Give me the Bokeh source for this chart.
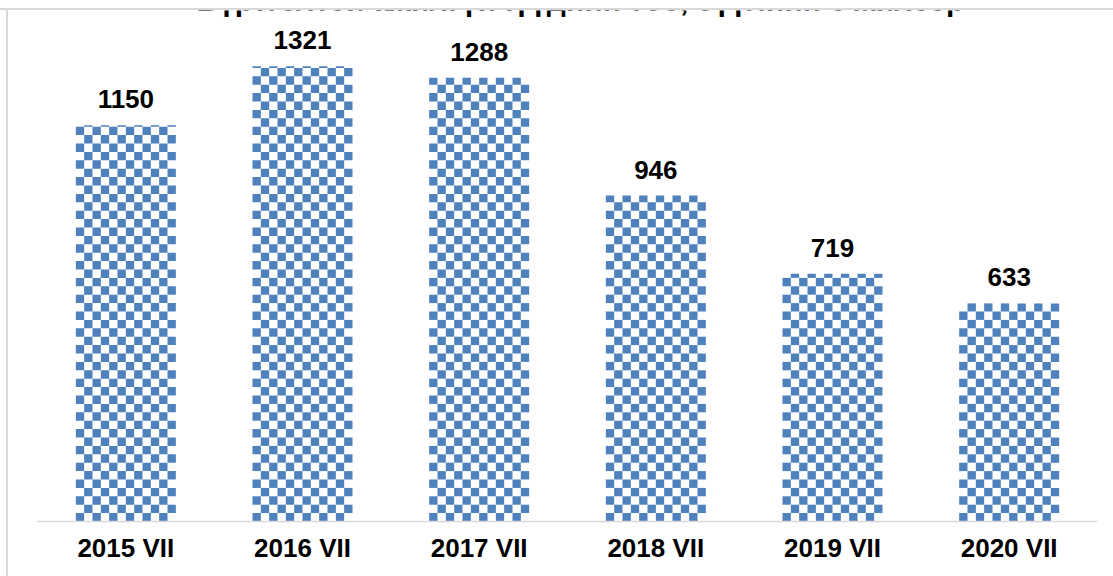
import math
from bokeh.plotting import figure
from bokeh.models import ColumnDataSource, Label, Range1d
from bokeh.core.properties import value
from bokeh.embed import file_html
from bokeh.resources import INLINE

# ---- data ----
categories = ["2015 VII", "2016 VII", "2017 VII", "2018 VII", "2019 VII", "2020 VII"]
values = [1150, 1321, 1288, 946, 719, 633]
value_labels = [str(v) for v in values]
title_text = "Бүртгэлтэй ажилгүйчүүдийн тоо, сүүлийн 6 жилээр"

FONT = "Liberation Sans"
BLUE = "#4F81BD"
BORDER = "#d9d9d9"

W, H = 1113, 576
FRAME_TOP, FRAME_BOTTOM_PAD = 10, 55
FRAME_H = H - FRAME_TOP - FRAME_BOTTOM_PAD
Y_MAX = 1483
BAR_W = 0.566
COLS = 12
CELL_PX = 8.4

p = figure(
    x_range=categories,
    y_range=Range1d(0, Y_MAX),
    width=W, height=H,
    output_backend="svg", toolbar_location=None,
    y_axis_location=None,
    min_border_left=37, min_border_right=16,
    min_border_top=FRAME_TOP, min_border_bottom=FRAME_BOTTOM_PAD,
)
# chart-area border (top and left edges) drawn as CSS background lines
p.styles = {
    "background-image": f"linear-gradient({BORDER},{BORDER}), linear-gradient({BORDER},{BORDER})",
    "background-size": "100% 2px, 2px 100%",
    "background-position": "0 8px, 6px 8px",
    "background-repeat": "no-repeat",
}
p.outline_line_color = None
p.xgrid.visible = False
p.ygrid.visible = False
p.background_fill_color = None
p.border_fill_color = None

# checkerboard bars: cells derived from each bar's value
cell_h = CELL_PX * Y_MAX / FRAME_H
L, R, B, T = [], [], [], []
for i, v in enumerate(values):
    left0 = i + 0.5 - BAR_W / 2
    cw = BAR_W / COLS
    nrows = math.ceil(v / cell_h)
    for r in range(nrows):
        bot = r * cell_h
        top = min((r + 1) * cell_h, v)
        for c in range(COLS):
            if (r + c) % 2 == 0:
                L.append(left0 + c * cw)
                R.append(left0 + (c + 1) * cw)
                B.append(bot)
                T.append(top)
cells = ColumnDataSource(dict(left=L, right=R, bottom=B, top=T))
p.quad(left="left", right="right", bottom="bottom", top="top", source=cells,
       fill_color=BLUE, line_color=None)

source = ColumnDataSource(dict(cat=categories, val=values, lab=value_labels))
p.text(x="cat", y="val", text="lab", source=source,
       text_align="center", text_baseline="alphabetic", y_offset=-26,
       text_font=value(FONT), text_font_style="bold",
       text_font_size="26px", text_color="black")

ax = p.xaxis[0]
ax.axis_line_color = BORDER
ax.axis_line_width = 1.5
ax.major_tick_line_color = None
ax.minor_tick_line_color = None
ax.major_tick_out = 0
ax.major_tick_in = 0
ax.major_label_standoff = 11
ax.major_label_text_font = FONT
ax.major_label_text_font_style = "bold"
ax.major_label_text_font_size = "26px"
ax.major_label_text_color = "black"

# clipped title above the chart area
p.add_layout(Label(x=580, y=0, x_units="canvas", y_units="canvas",
                   text=title_text, text_align="center", text_baseline="alphabetic",
                   text_font=FONT, text_font_style="bold", text_font_size="30px",
                   text_color="black"))

open("out.html", "w").write(file_html(p, INLINE))
